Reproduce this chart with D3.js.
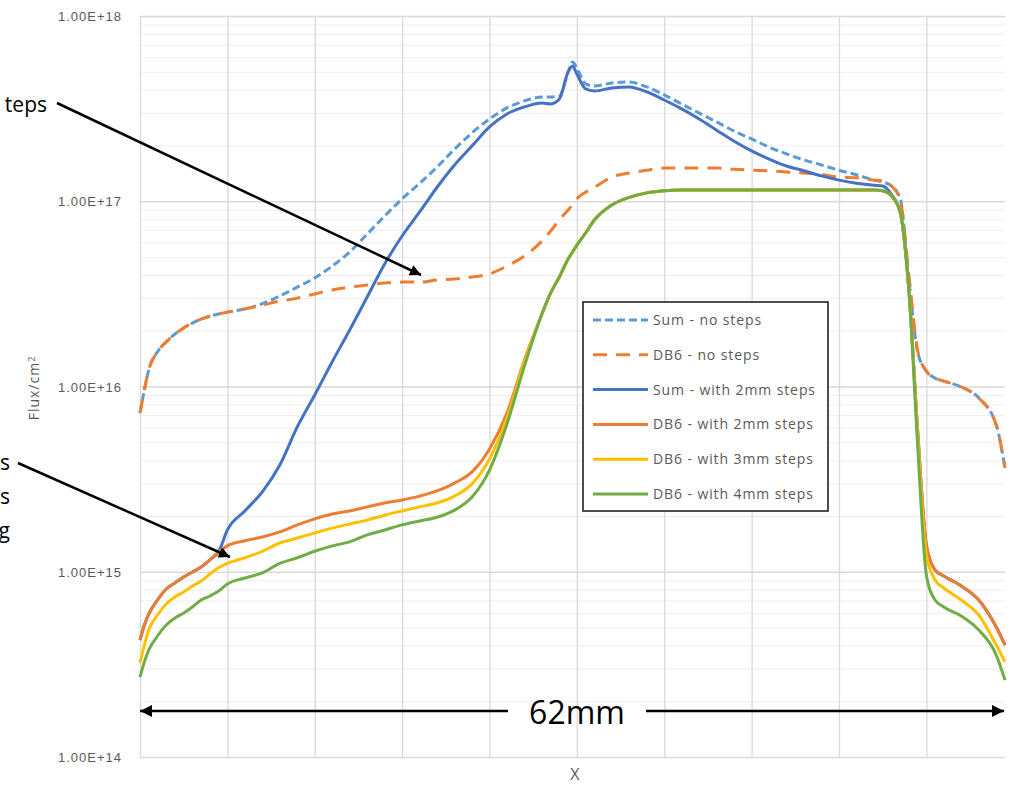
<!DOCTYPE html>
<html>
<head>
<meta charset="utf-8">
<script src="https://cdn.jsdelivr.net/npm/d3@7"></script>
<style>
  body { margin: 0; background: #fff; }
  svg { display: block; font-family: "Open Sans", "Liberation Sans", sans-serif; }
</style>
</head>
<body>
<div id="chart"></div>
<script>
// Position along the 62mm profile (category index, 0..99)
const xIndex = [0, 0.5, 1, 2, 3, 4, 5, 6, 7, 8, 9, 10, 12, 14, 16, 18, 20, 22, 24, 26, 28, 30, 32, 34, 36, 38, 40, 42, 44, 46,
  47, 48, 49, 49.5, 50, 51, 52, 54, 56, 58, 60, 62, 64, 66, 68, 70, 72, 74, 76, 78, 80, 82, 84,
  85, 86, 87, 88, 89, 90, 91, 92, 94, 96, 98, 99];

const sumNoSteps = [7.2e15, 9.6e15, 1.23e16, 1.54e16, 1.74e16, 1.92e16, 2.07e16, 2.2e16, 2.31e16, 2.4e16, 2.46e16, 2.52e16,
  2.62e16, 2.8e16, 3.08e16, 3.44e16, 3.85e16, 4.47e16, 5.32e16, 6.65e16, 8.32e16, 1.03e17, 1.25e17, 1.53e17, 1.91e17, 2.34e17, 2.78e17, 3.19e17, 3.48e17, 3.65e17,
  3.65e17, 3.7e17, 4.99e17, 5.65e17, 5.24e17, 4.3e17, 4.19e17,
  4.35e17, 4.4e17, 4.14e17, 3.75e17, 3.35e17, 2.99e17, 2.68e17, 2.39e17, 2.17e17, 1.96e17, 1.8e17, 1.67e17, 1.57e17, 1.47e17, 1.39e17, 1.3e17,
  1.27e17, 1.21e17, 1.04e17, 3.76e16, 1.54e16, 1.21e16, 1.11e16, 1.07e16, 9.94e15, 8.67e15, 6.2e15, 3.63e15];

const db6NoSteps = [7.2e15, 9.6e15, 1.23e16, 1.54e16, 1.74e16, 1.92e16, 2.07e16, 2.2e16, 2.31e16, 2.4e16, 2.46e16, 2.52e16,
  2.62e16, 2.75e16, 2.89e16, 3.0e16, 3.16e16, 3.32e16, 3.44e16, 3.53e16, 3.62e16, 3.66e16, 3.66e16, 3.76e16, 3.8e16, 3.9e16, 4.05e16, 4.47e16, 5.06e16, 6.1e16,
  6.91e16, 7.92e16, 8.97e16, 9.55e16, 1.03e17, 1.12e17, 1.19e17,
  1.35e17, 1.42e17, 1.47e17, 1.51e17, 1.51e17, 1.51e17, 1.51e17, 1.49e17, 1.47e17, 1.46e17, 1.44e17, 1.42e17, 1.39e17, 1.35e17, 1.34e17, 1.3e17,
  1.29e17, 1.21e17, 1.02e17, 4.0e16, 1.57e16, 1.21e16, 1.11e16, 1.07e16, 9.94e15, 8.67e15, 6.2e15, 3.63e15];

const sum2mm = [4.28e14, 5.16e14, 5.91e14, 7.04e14, 8.07e14, 8.7e14, 9.37e14, 9.97e14, 1.06e15, 1.16e15, 1.28e15, 1.68e15,
  2.13e15, 2.7e15, 3.77e15, 6.05e15, 9.0e15, 1.36e16, 2.02e16, 3.04e16, 4.59e16, 6.49e16, 8.75e16, 1.19e17, 1.57e17, 1.99e17, 2.52e17, 2.96e17, 3.23e17, 3.39e17,
  3.35e17, 3.56e17, 4.99e17, 5.37e17, 4.86e17, 4.04e17, 3.94e17,
  4.09e17, 4.14e17, 3.89e17, 3.52e17, 3.15e17, 2.78e17, 2.42e17, 2.11e17, 1.87e17, 1.69e17, 1.55e17, 1.46e17, 1.37e17, 1.3e17, 1.25e17, 1.22e17,
  1.21e17, 1.09e17, 8.75e16, 3.32e16, 5.82e15, 1.39e15, 1.02e15, 9.49e14, 8.38e14, 7.04e14, 5.03e14, 4.02e14];

const db6_2mm = [4.28e14, 5.16e14, 5.91e14, 7.04e14, 8.07e14, 8.7e14, 9.37e14, 9.97e14, 1.06e15, 1.16e15, 1.28e15, 1.38e15,
  1.47e15, 1.54e15, 1.64e15, 1.79e15, 1.93e15, 2.05e15, 2.13e15, 2.24e15, 2.35e15, 2.44e15, 2.56e15, 2.73e15, 3.01e15, 3.46e15, 4.6e15, 7.19e15, 1.39e16, 2.46e16,
  3.2e16, 3.9e16, 4.88e16, 5.32e16, 5.8e16, 6.74e16, 7.92e16,
  9.55e16, 1.05e17, 1.11e17, 1.14e17, 1.15e17, 1.15e17, 1.15e17, 1.15e17, 1.15e17, 1.15e17, 1.15e17, 1.15e17, 1.15e17, 1.15e17, 1.15e17, 1.15e17,
  1.14e17, 1.07e17, 8.75e16, 3.32e16, 5.82e15, 1.39e15, 1.02e15, 9.49e14, 8.38e14, 7.04e14, 5.03e14, 4.02e14];

const db6_3mm = [3.22e14, 4.02e14, 4.85e14, 5.84e14, 6.7e14, 7.31e14, 7.78e14, 8.38e14, 8.91e14, 9.72e14, 1.05e15, 1.11e15,
  1.19e15, 1.29e15, 1.43e15, 1.52e15, 1.62e15, 1.72e15, 1.81e15, 1.9e15, 2.02e15, 2.13e15, 2.24e15, 2.35e15, 2.56e15, 2.98e15, 4.06e15, 6.76e15, 1.36e16, 2.46e16,
  3.2e16, 3.9e16, 4.88e16, 5.32e16, 5.8e16, 6.74e16, 7.92e16,
  9.55e16, 1.05e17, 1.11e17, 1.14e17, 1.15e17, 1.15e17, 1.15e17, 1.15e17, 1.15e17, 1.15e17, 1.15e17, 1.15e17, 1.15e17, 1.15e17, 1.15e17, 1.15e17,
  1.14e17, 1.07e17, 8.75e16, 3.32e16, 5.47e15, 1.23e15, 9.03e14, 8.17e14, 7.04e14, 5.84e14, 4.02e14, 3.26e14];

const db6_4mm = [2.7e14, 3.26e14, 3.78e14, 4.5e14, 5.16e14, 5.63e14, 5.99e14, 6.45e14, 7.04e14, 7.4e14, 7.87e14, 8.59e14,
  9.25e14, 9.85e14, 1.11e15, 1.19e15, 1.29e15, 1.38e15, 1.45e15, 1.58e15, 1.68e15, 1.79e15, 1.88e15, 1.97e15, 2.15e15, 2.53e15, 3.54e15, 6.28e15, 1.29e16, 2.46e16,
  3.2e16, 3.9e16, 4.88e16, 5.32e16, 5.8e16, 6.74e16, 7.92e16,
  9.55e16, 1.05e17, 1.11e17, 1.14e17, 1.15e17, 1.15e17, 1.15e17, 1.15e17, 1.15e17, 1.15e17, 1.15e17, 1.15e17, 1.15e17, 1.15e17, 1.15e17, 1.15e17,
  1.14e17, 1.07e17, 8.75e16, 3.32e16, 4.83e15, 9.61e14, 7.04e14, 6.45e14, 5.77e14, 4.85e14, 3.55e14, 2.6e14];

const seriesNames = ["Sum - no steps", "DB6 - no steps", "Sum - with 2mm steps", "DB6 - with 2mm steps", "DB6 - with 3mm steps", "DB6 - with 4mm steps"];
const yTickValues = [1e14, 1e15, 1e16, 1e17, 1e18];
const xGridValues = [0, 10, 20, 30, 40, 50, 60, 70, 80, 90];

class FluxChart {
  constructor(_config) {
    this.config = {
      parentElement: _config.parentElement,
      containerWidth: _config.containerWidth,
      containerHeight: _config.containerHeight,
      margin: { top: 16, right: 8, bottom: 28, left: 140 },
    };
    this.series = [
      { name: seriesNames[0], values: sumNoSteps, color: "#5B9BD5", dash: "8,4" },
      { name: seriesNames[1], values: db6NoSteps, color: "#ED7D31", dash: "14,9" },
      { name: seriesNames[2], values: sum2mm, color: "#4472C4", dash: null },
      { name: seriesNames[3], values: db6_2mm, color: "#ED7D31", dash: null },
      { name: seriesNames[4], values: db6_3mm, color: "#FFC000", dash: null },
      { name: seriesNames[5], values: db6_4mm, color: "#70AD47", dash: null },
    ];
    this.initVis();
  }

  initVis() {
    let vis = this;

    vis.width = vis.config.containerWidth - vis.config.margin.left - vis.config.margin.right;
    vis.height = vis.config.containerHeight - vis.config.margin.top - vis.config.margin.bottom;

    vis.xScale = d3.scaleLinear().domain([0, 99]).range([0, vis.width]);
    vis.yScale = d3.scaleLog().domain([1e14, 1e18]).range([vis.height, 0]);

    vis.svg = d3.select(vis.config.parentElement)
      .append("svg")
      .attr("width", vis.config.containerWidth)
      .attr("height", vis.config.containerHeight);

    // arrow heads for the annotations
    const defs = vis.svg.append("defs");
    defs.append("marker")
      .attr("id", "head")
      .attr("viewBox", "0 0 10 10")
      .attr("refX", 10).attr("refY", 5)
      .attr("markerUnits", "userSpaceOnUse")
      .attr("markerWidth", 22).attr("markerHeight", 11)
      .attr("orient", "auto")
      .append("path").attr("d", "M0,0L10,5L0,10Z").attr("fill", "#000");
    defs.append("marker")
      .attr("id", "bighead")
      .attr("viewBox", "0 0 10 10")
      .attr("refX", 10).attr("refY", 5)
      .attr("markerUnits", "userSpaceOnUse")
      .attr("markerWidth", 27).attr("markerHeight", 12)
      .attr("orient", "auto")
      .append("path").attr("d", "M0,0L10,5L0,10Z").attr("fill", "#000");

    vis.chart = vis.svg.append("g")
      .attr("transform", `translate(${vis.config.margin.left},${vis.config.margin.top})`);

    // Minor horizontal gridlines (2..9 in each decade)
    const isPow10 = d => Math.abs(Math.log10(d) - Math.round(Math.log10(d))) < 1e-6;
    vis.chart.append("g")
      .call(d3.axisLeft(vis.yScale).tickValues(vis.yScale.ticks().filter(d => !isPow10(d))).tickSize(-vis.width).tickFormat(""))
      .call(g => g.select(".domain").remove())
      .call(g => g.selectAll("line").attr("stroke", "#eeeeee").attr("stroke-width", 1));

    // Vertical gridlines
    vis.chart.append("g")
      .attr("transform", `translate(0,${vis.height})`)
      .call(d3.axisBottom(vis.xScale).tickValues(xGridValues).tickSize(-vis.height).tickFormat(""))
      .call(g => g.select(".domain").remove())
      .call(g => g.selectAll("line").attr("stroke", "#d9d9d9").attr("stroke-width", 1.3));

    // Major horizontal gridlines + labels
    vis.chart.append("g")
      .attr("class", "y-axis")
      .call(d3.axisLeft(vis.yScale).tickValues(yTickValues).tickSize(-vis.width).tickPadding(18)
        .tickFormat(d => d.toExponential(2).toUpperCase()))
      .call(g => g.select(".domain").remove())
      .call(g => g.selectAll("line").attr("stroke", "#d9d9d9").attr("stroke-width", 1.3))
      .call(g => g.selectAll("text")
        .attr("fill", "#595959")
        .style("font-size", "13px")
        .style("letter-spacing", "1px")
        .attr("dy", "0.35em"));

    // Axis titles
    vis.svg.append("text")
      .attr("transform", "translate(39,388) rotate(-90)")
      .attr("text-anchor", "middle")
      .attr("fill", "#595959")
      .style("font-size", "14px")
      .style("letter-spacing", "1px")
      .text("Flux/cm")
      .append("tspan").attr("dy", "-0.45em").style("font-size", "9px").text("2");

    vis.svg.append("text")
      .attr("x", vis.config.margin.left + vis.xScale(50) - 2)
      .attr("y", 780)
      .attr("text-anchor", "middle")
      .attr("fill", "#595959")
      .style("font-size", "16px")
      .text("X");

    vis.renderVis();
  }

  renderVis() {
    let vis = this;

    const line = d3.line()
      .x((d, i) => vis.xScale(xIndex[i]))
      .y(d => vis.yScale(d))
      .curve(d3.curveMonotoneX);

    vis.chart.selectAll(".series")
      .data(vis.series)
      .join("path")
      .attr("class", "series")
      .attr("d", d => line(d.values))
      .attr("fill", "none")
      .attr("stroke", d => d.color)
      .attr("stroke-width", 3)
      .attr("stroke-dasharray", d => d.dash)
      .attr("stroke-linejoin", "round");

    // Legend
    const lx = 583, ly = 302;
    vis.svg.append("rect")
      .attr("x", lx).attr("y", ly)
      .attr("width", 245).attr("height", 209)
      .attr("fill", "#fff")
      .attr("stroke", "#222")
      .attr("stroke-width", 1.6);

    const items = vis.svg.selectAll(".legend-item")
      .data(vis.series)
      .join("g")
      .attr("class", "legend-item")
      .attr("transform", (d, i) => `translate(${lx + 10},${ly + 18 + i * 34.8})`);

    items.append("line")
      .attr("x1", 0).attr("x2", 55)
      .attr("stroke", d => d.color)
      .attr("stroke-width", 3)
      .attr("stroke-dasharray", d => d.dash);

    items.append("text")
      .attr("x", 60)
      .attr("dy", "0.35em")
      .attr("fill", "#595959")
      .style("font-size", "14px")
      .style("letter-spacing", "0.9px")
      .text(d => d.name);

    vis.renderAnnotations();
  }

  renderAnnotations() {
    let vis = this;
    const ann = vis.svg.append("g").attr("class", "annotations");

    ann.append("text").attr("x", 47).attr("y", 112).attr("text-anchor", "end")
      .style("font-size", "21px").attr("fill", "#000").text("teps");
    ann.append("line")
      .attr("x1", 57).attr("y1", 103).attr("x2", 421).attr("y2", 275)
      .attr("stroke", "#000").attr("stroke-width", 2.5)
      .attr("marker-end", "url(#head)");

    ["s", "s", "g"].forEach((t, i) => {
      ann.append("text").attr("x", 10).attr("y", 470 + i * 34).attr("text-anchor", "end")
        .style("font-size", "21px").attr("fill", "#000").text(t);
    });
    ann.append("line")
      .attr("x1", 18).attr("y1", 463).attr("x2", 230).attr("y2", 557)
      .attr("stroke", "#000").attr("stroke-width", 2.5)
      .attr("marker-end", "url(#head)");

    // 62mm dimension arrow
    const left = vis.config.margin.left + vis.xScale(0);
    const right = vis.config.margin.left + vis.xScale(99);
    ann.append("line")
      .attr("x1", 508).attr("y1", 711).attr("x2", left).attr("y2", 711)
      .attr("stroke", "#000").attr("stroke-width", 2.5)
      .attr("marker-end", "url(#bighead)");
    ann.append("line")
      .attr("x1", 646).attr("y1", 711).attr("x2", right - 1).attr("y2", 711)
      .attr("stroke", "#000").attr("stroke-width", 2.5)
      .attr("marker-end", "url(#bighead)");
    ann.append("text")
      .attr("x", 577).attr("y", 724)
      .attr("text-anchor", "middle")
      .attr("fill", "#000")
      .style("font-size", "32px")
      .text("62mm");
  }
}

new FluxChart({ parentElement: "#chart", containerWidth: 1013, containerHeight: 785 });
</script>
</body>
</html>
